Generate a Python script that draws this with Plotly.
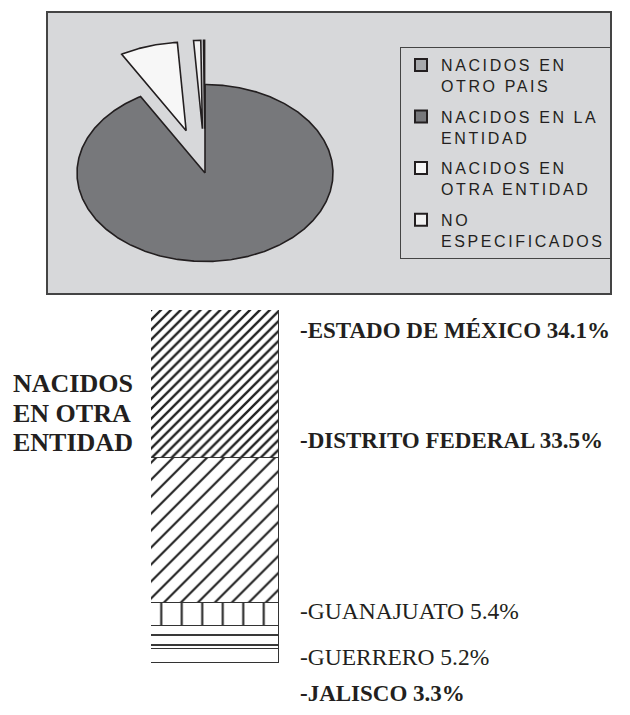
import numpy as np
import plotly.graph_objects as go

# ---------------- data ----------------
pie_categories = ["NACIDOS EN\nOTRO PAIS", "NACIDOS EN LA\nENTIDAD",
                  "NACIDOS EN\nOTRA ENTIDAD", "NO\nESPECIFICADOS"]
pie_values = [0.2, 91.6, 7.3, 0.9]          # percent

states = ["ESTADO DE MÉXICO", "DISTRITO FEDERAL", "GUANAJUATO", "GUERRERO", "JALISCO"]
state_pct = [34.1, 33.5, 5.4, 5.2, 3.3]

left_title = ["NACIDOS", "EN OTRA", "ENTIDAD"]

# ---------------- styles ----------------
W, H = 630, 715
def px_x(p): return p / W
def px_y(p): return 1 - p / H

pie_colors = ["#a7a9ac", "#77787b", "#f7f7f7", "#f1f1f1"]
pie_pull = [0.5, 0.0, 0.5, 0.5]
draw_order = [1, 2, 3, 0]     # clockwise from 12 o'clock
edge = "#231f20"

patterns = [dict(shape="/", size=7, solidity=0.34),
            dict(shape="/", size=12, solidity=0.18),
            dict(shape="|", size=20.5, solidity=0.1),
            dict(shape="-", size=10, solidity=0.18),
            dict(shape="", size=8, solidity=0.1)]
label_bold = [True, True, False, False, True]
label_size = [23, 23, 23.5, 23.5, 23]
label_y_px = [330, 440, 611, 657, 693]
title_y_px = [383, 413, 442]

fig = go.Figure()

# ---------------- pie (elliptical, exploded) ----------------
total = sum(pie_values)
cursor = 90.0
for idx in draw_order:
    span = pie_values[idx] / total * 360.0
    a0, a1 = cursor, cursor - span
    cursor = a1
    t = np.radians(np.linspace(a0, a1, max(4, int(span * 2))))
    mid = np.radians((a0 + a1) / 2)
    dx, dy = pie_pull[idx] * np.cos(mid), pie_pull[idx] * np.sin(mid)
    xs = np.concatenate([[dx], np.cos(t) + dx, [dx]])
    ys = np.concatenate([[dy], np.sin(t) + dy, [dy]])
    fig.add_trace(go.Scatter(x=xs, y=ys, mode="lines", fill="toself",
                             fillcolor=pie_colors[idx],
                             line=dict(color=edge, width=1.6),
                             showlegend=False, hoverinfo="skip",
                             xaxis="x", yaxis="y"))

def spaced(txt):
    return "<br>".join('<span style="letter-spacing:2.6px">%s</span>' % ln
                       for ln in txt.split("\n"))

for i, cat in enumerate(pie_categories):
    fig.add_trace(go.Scatter(x=[None], y=[None], mode="markers",
                             marker=dict(symbol="square", size=11, color=pie_colors[i],
                                         line=dict(color=edge, width=1.5)),
                             name=spaced(cat), legendgroup="g%d" % i,
                             showlegend=True, xaxis="x", yaxis="y"))

# ---------------- stacked bar ----------------
for i, (st, v) in enumerate(zip(states, state_pct)):
    pat = patterns[i]
    marker = dict(color="white", line=dict(color="#333333", width=1.5))
    if pat["shape"]:
        marker["pattern"] = dict(shape=pat["shape"], size=pat["size"],
                                 solidity=pat["solidity"], fgcolor="#222222",
                                 bgcolor="white", fillmode="replace")
    fig.add_trace(go.Bar(x=[0], y=[v], width=1, name=st, marker=marker,
                         showlegend=False, hoverinfo="skip",
                         xaxis="x2", yaxis="y2"))

# ---------------- annotations ----------------
serif = "Liberation Serif, Times New Roman, serif"
sans = "Liberation Sans, Arial, sans-serif"
ann = []
for line, yp in zip(left_title, title_y_px):
    ann.append(dict(x=px_x(11), y=px_y(yp), xref="paper", yref="paper",
                    xanchor="left", yanchor="middle", align="left", showarrow=False,
                    text="<b>%s</b>" % line,
                    font=dict(family=serif, size=26, color=edge)))
for st, v, b, fs, yp in zip(states, state_pct, label_bold, label_size, label_y_px):
    txt = "-%s %s%%" % (st, v)
    if b:
        txt = "<b>" + txt + "</b>"
    ann.append(dict(x=px_x(298), y=px_y(yp), xref="paper", yref="paper",
                    xanchor="left", yanchor="middle", showarrow=False, text=txt,
                    font=dict(family=serif, size=fs, color=edge)))

# ---------------- layout ----------------
cx, cy, rx, ry = 205, 173, 128, 88.5
xr, yr_lo, yr_hi = 1.25, -1.4, 1.6
k = 4.334   # px per percent on the bar
bar_top, bar_bot = 310, 715

fig.update_layout(
    width=W, height=H, margin=dict(l=0, r=0, t=0, b=0),
    paper_bgcolor="white", plot_bgcolor="rgba(0,0,0,0)",
    barmode="stack", bargap=0,
    xaxis=dict(domain=[px_x(cx - xr * rx), px_x(cx + xr * rx)], range=[-xr, xr],
               visible=False, fixedrange=True),
    yaxis=dict(domain=[px_y(cy - yr_lo * ry), px_y(cy - yr_hi * ry)],
               range=[yr_lo, yr_hi], visible=False, fixedrange=True),
    xaxis2=dict(domain=[px_x(151), px_x(279)], range=[-0.5, 0.5], visible=False),
    yaxis2=dict(domain=[px_y(bar_bot), px_y(bar_top)],
                range=[(bar_bot - bar_top) / k, 0], visible=False),
    shapes=[dict(type="rect", xref="paper", yref="paper", layer="below",
                 x0=px_x(47), x1=px_x(611), y0=px_y(294), y1=px_y(12),
                 fillcolor="#d7d8da", line=dict(color="#444444", width=2))],
    legend=dict(x=px_x(400), y=px_y(47), xanchor="left", yanchor="top",
                bgcolor="rgba(0,0,0,0)", bordercolor="#444444", borderwidth=1,
                font=dict(family=sans, size=16, color=edge),
                traceorder="grouped", valign="top", tracegroupgap=7,
                itemsizing="constant"),
    annotations=ann,
    showlegend=True,
)

fig.write_html("out.html")
